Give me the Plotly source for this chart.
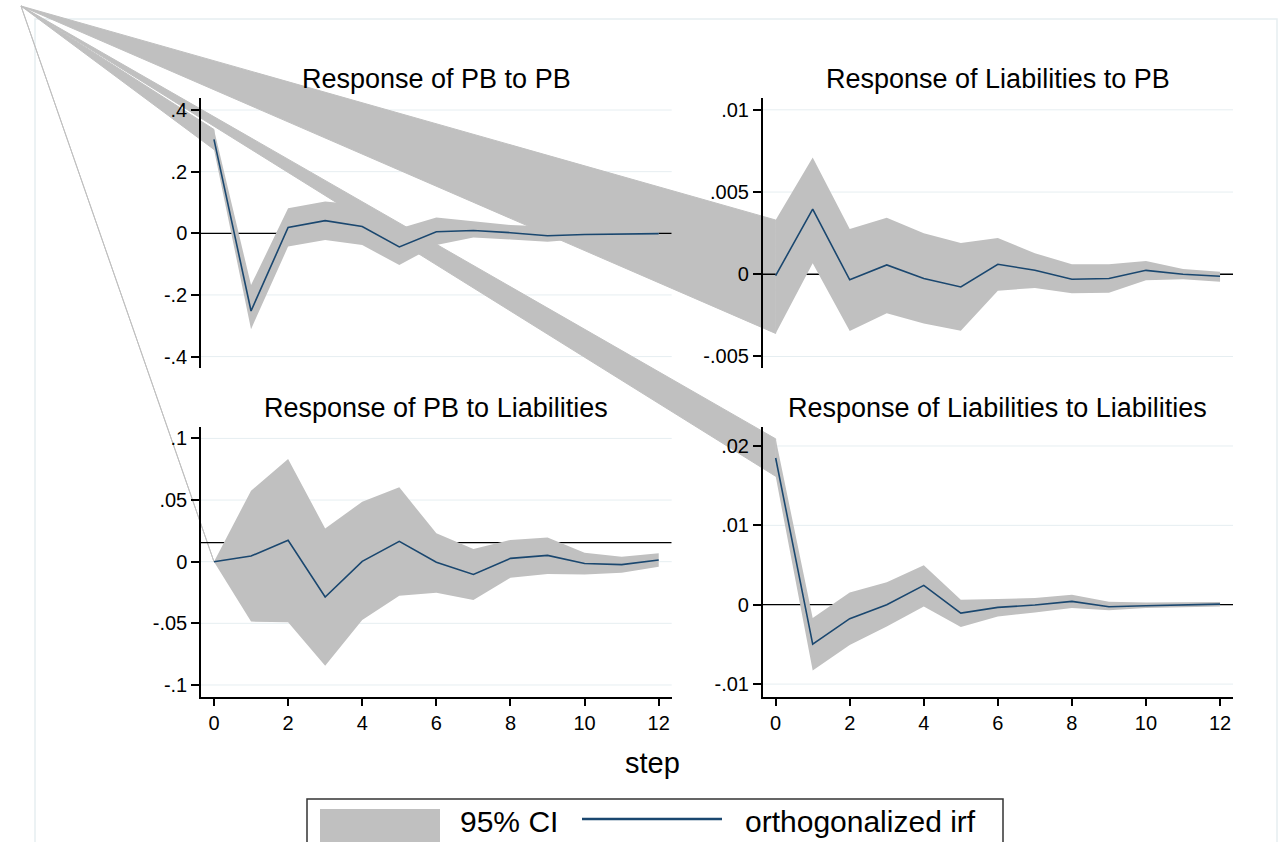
import plotly.graph_objects as go

# ---------------- data ----------------
steps = list(range(13))

titles = ["Response of PB to PB", "Response of Liabilities to PB",
          "Response of PB to Liabilities", "Response of Liabilities to Liabilities"]

pb_pb_irf = [0.305, -0.252, 0.019, 0.041, 0.022, -0.044, 0.005, 0.009, 0.002, -0.008, -0.004, -0.002, -0.001]
pb_pb_hi = [0.337, -0.168, 0.081, 0.103, 0.092, 0.016, 0.051, 0.038, 0.027, 0.022, 0.012, 0.008, 0.006]
pb_pb_lo = [0.272, -0.311, -0.043, -0.022, -0.038, -0.103, -0.038, -0.014, -0.020, -0.027, -0.018, -0.012, -0.010]

lb_pb_irf = [-0.00008, 0.00396, -0.00034, 0.00057, -0.00026, -0.00077, 0.00061, 0.00024, -0.0003, -0.00026, 0.00024, 0.0, -0.00012]
lb_pb_hi = [0.0033, 0.0071, 0.00276, 0.00343, 0.0025, 0.0019, 0.0022, 0.00128, 0.00061, 0.00061, 0.00081, 0.00032, 0.00016]
lb_pb_lo = [-0.0036, 0.00067, -0.00345, -0.00237, -0.003, -0.00343, -0.001, -0.00083, -0.00116, -0.00112, -0.00037, -0.0003, -0.00045]

pb_lb_irf = [0.0, 0.0046, 0.0173, -0.0286, 0.0003, 0.0165, -0.0005, -0.0103, 0.0027, 0.0051, -0.0014, -0.0024, 0.0014]
pb_lb_hi = [0.0, 0.0576, 0.0832, 0.027, 0.0486, 0.0603, 0.023, 0.0103, 0.0176, 0.0197, 0.0073, 0.0041, 0.0068]
pb_lb_lo = [0.0, -0.0486, -0.0492, -0.0843, -0.0473, -0.0276, -0.0251, -0.0311, -0.013, -0.01, -0.0103, -0.0089, -0.0041]

lb_lb_irf = [0.01849, -0.00496, -0.00176, 0.0, 0.00244, -0.00105, -0.00034, -0.00004, 0.00042, -0.00025, -0.00013, -0.00004, 0.00008]
lb_lb_hi = [0.0209, -0.00168, 0.00155, 0.00282, 0.00496, 0.00063, 0.00071, 0.00084, 0.00126, 0.00038, 0.00029, 0.00029, 0.00034]
lb_lb_lo = [0.01618, -0.00828, -0.00508, -0.00273, -0.00021, -0.00282, -0.00147, -0.00097, -0.00042, -0.00071, -0.00042, -0.00034, -0.00021]

# reference (horizontal) line level drawn in each panel
ref_levels = [0.0, 0.0, 0.0154, 0.0]

ytickvals = [[0.4, 0.2, 0, -0.2, -0.4], [0.01, 0.005, 0, -0.005],
             [0.1, 0.05, 0, -0.05, -0.1], [0.02, 0.01, 0, -0.01]]
yticktext = [[".4", ".2", "0", "-.2", "-.4"], [".01", ".005", "0", "-.005"],
             [".1", ".05", "0", "-.05", "-.1"], [".02", ".01", "0", "-.01"]]
xtickvals = [0, 2, 4, 6, 8, 10, 12]
xticktext = ["0", "2", "4", "6", "8", "10", "12"]

legend_labels = ["95% CI", "orthogonalized irf"]
xlabel = "step"

irfs = [pb_pb_irf, lb_pb_irf, pb_lb_irf, lb_lb_irf]
his = [pb_pb_hi, lb_pb_hi, pb_lb_hi, lb_lb_hi]
los = [pb_pb_lo, lb_pb_lo, pb_lb_lo, lb_lb_lo]

# ---------------- layout geometry (pixels) ----------------
W, H = 1281, 842
FONT = "Liberation Sans, Arial, sans-serif"
CI_COL = "#c0c0c0"
IRF_COL = "#1a476f"
GRID_COL = "#e6eef1"
XR = [-0.35, 12.35]
# x0, x1, ytop, ybottom, yrange
panels = [
    (201, 671.7, 98, 368, [-0.437, 0.439]),
    (762.7, 1233, 98, 368, [-0.0057, 0.01072]),
    (201, 671.7, 426.7, 696.7, [-0.1095, 0.1095]),
    (762.7, 1233, 426.7, 696.7, [-0.01159, 0.02243]),
]
CORNER = (21, 6)  # rendering origin where the CI polygons close


def px(p, xv):
    x0, x1 = p[0], p[1]
    return x0 + (xv - XR[0]) / (XR[1] - XR[0]) * (x1 - x0)


def py(p, yv):
    yt, yb, yr = p[2], p[3], p[4]
    return yb - (yv - yr[0]) / (yr[1] - yr[0]) * (yb - yt)


def paper(xp, yp):
    return "%.5f,%.5f" % (xp / W, 1 - yp / H)


fig = go.Figure()
layout = dict(
    width=W, height=H, margin=dict(l=0, r=0, t=0, b=0, pad=0),
    paper_bgcolor="white", plot_bgcolor="white", showlegend=False,
    font=dict(family=FONT, color="black"),
)
shapes = []
annotations = []

# outer graph frame
shapes.append(dict(type="rect", xref="paper", yref="paper", x0=35 / W, x1=1277 / W,
                   y0=1 - 880 / H, y1=1 - 19 / H, line=dict(color=GRID_COL, width=1.5),
                   layer="below"))

for i, p in enumerate(panels):
    k = "" if i == 0 else str(i + 1)
    xa, ya = "x" + k, "y" + k
    bottom = i >= 2
    layout["xaxis" + k] = dict(
        domain=[p[0] / W, p[1] / W], range=XR, anchor=ya,
        showgrid=False, zeroline=False,
        showline=bottom, linecolor="black", linewidth=1.5,
        ticks="outside" if bottom else "", ticklen=8, tickwidth=1.5, tickcolor="black",
        tickmode="array", tickvals=xtickvals, ticktext=xticktext, showticklabels=bottom,
        tickfont=dict(size=20, family=FONT, color="black"),
    )
    layout["yaxis" + k] = dict(
        domain=[1 - p[3] / H, 1 - p[2] / H], range=p[4], anchor=xa,
        showgrid=False, zeroline=False,
        showline=True, linecolor="black", linewidth=1.5,
        ticks="outside", ticklen=8, tickwidth=1.5, tickcolor="black",
        tickmode="array", tickvals=ytickvals[i], ticktext=yticktext[i],
        tickfont=dict(size=20, family=FONT, color="black"),
    )
    # horizontal grid lines (drawn underneath everything)
    for tv in ytickvals[i]:
        shapes.append(dict(type="line", xref="paper", yref=ya, x0=p[0] / W, x1=p[1] / W,
                           y0=tv, y1=tv, line=dict(color=GRID_COL, width=1), layer="below"))
    # reference line (under the band)
    fig.add_trace(go.Scatter(
        x=XR, y=[ref_levels[i], ref_levels[i]], xaxis=xa, yaxis=ya, mode="lines",
        line=dict(color="black", width=1.3), hoverinfo="skip"))
    # CI band
    fig.add_trace(go.Scatter(
        x=steps + steps[::-1], y=his[i] + los[i][::-1], xaxis=xa, yaxis=ya,
        fill="toself", fillcolor=CI_COL, line=dict(width=0), mode="lines",
        hoverinfo="skip", name=legend_labels[0]))
    # IRF
    fig.add_trace(go.Scatter(
        x=steps, y=irfs[i], xaxis=xa, yaxis=ya, mode="lines",
        line=dict(color=IRF_COL, width=1.6), name=legend_labels[1]))
    # title
    annotations.append(dict(text=titles[i], x=(p[0] + p[1]) / 2 / W, y=1 - (p[2] - 19) / H,
                            xref="paper", yref="paper", showarrow=False,
                            xanchor="center", yanchor="middle",
                            font=dict(size=27, family=FONT, color="black")))

# closing triangles of the CI polygons (rendering artefact of the original)
for i, p in enumerate(panels):
    path = "M%s L%s L%s Z" % (paper(*CORNER),
                              paper(px(p, steps[0]), py(p, his[i][0])),
                              paper(px(p, steps[0]), py(p, los[i][0])))
    shapes.append(dict(type="path", xref="paper", yref="paper", path=path,
                       fillcolor=CI_COL, line=dict(color=CI_COL, width=1), layer="below"))

# x-axis title
annotations.append(dict(text=xlabel, x=652 / W, y=1 - 763 / H, xref="paper", yref="paper",
                        showarrow=False, xanchor="center", yanchor="middle",
                        font=dict(size=29, family=FONT, color="black")))

# legend (manual)
LY = 821
shapes.append(dict(type="rect", xref="paper", yref="paper", x0=307 / W, x1=1003 / W,
                   y0=1 - 890 / H, y1=1 - 799 / H, line=dict(color="#333333", width=1.5),
                   fillcolor="white", layer="above"))
shapes.append(dict(type="rect", xref="paper", yref="paper", x0=320 / W, x1=440 / W,
                   y0=1 - 842 / H, y1=1 - 809 / H, line=dict(width=0),
                   fillcolor=CI_COL, layer="above"))
shapes.append(dict(type="line", xref="paper", yref="paper", x0=582 / W, x1=722 / W,
                   y0=1 - (LY - 2) / H, y1=1 - (LY - 2) / H,
                   line=dict(color=IRF_COL, width=2.5), layer="above"))
annotations.append(dict(text=legend_labels[0], x=458 / W, y=1 - LY / H, xref="paper", yref="paper",
                        showarrow=False, xanchor="left", yanchor="middle",
                        font=dict(size=30, family=FONT, color="black")))
annotations.append(dict(text=legend_labels[1], x=743 / W, y=1 - LY / H, xref="paper", yref="paper",
                        showarrow=False, xanchor="left", yanchor="middle",
                        font=dict(size=30, family=FONT, color="black")))

fig.update_layout(**layout)
fig.update_layout(shapes=shapes, annotations=annotations)
fig.write_html("out.html")
